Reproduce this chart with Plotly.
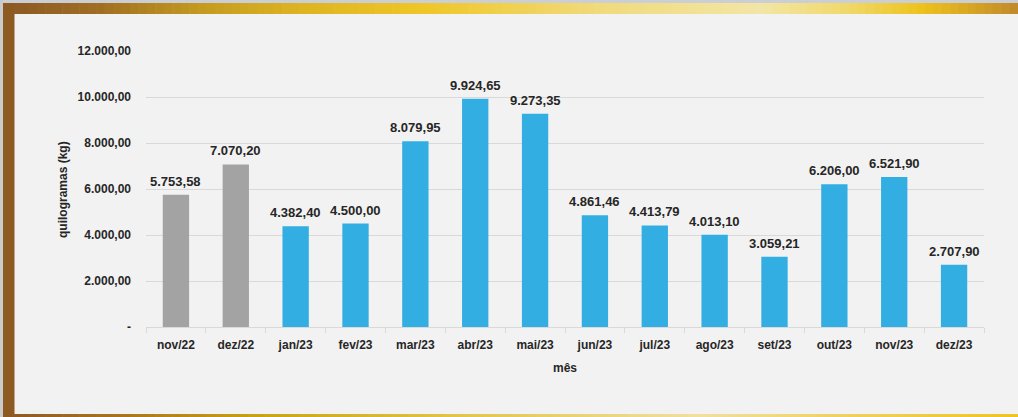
import plotly.graph_objects as go

# ---- data ----
months = ["nov/22", "dez/22", "jan/23", "fev/23", "mar/23", "abr/23", "mai/23",
          "jun/23", "jul/23", "ago/23", "set/23", "out/23", "nov/23", "dez/23"]
kg = [5753.58, 7070.20, 4382.40, 4500.00, 8079.95, 9924.65, 9273.35,
      4861.46, 4413.79, 4013.10, 3059.21, 6206.00, 6521.90, 2707.90]
bar_colors = ["#a2a3a2", "#a2a3a2"] + ["#32aee3"] * 12
y_tickvals = [0, 2000, 4000, 6000, 8000, 10000, 12000]
y_ticktext = ["-", "2.000,00", "4.000,00", "6.000,00", "8.000,00", "10.000,00", "12.000,00"]

W, H = 1018, 417
L, R, T, B = 146, 984, 51, 327  # plot area in pixels

def px_x(p):
    return (p - L) / (R - L)

def px_y(p):
    return (B - p) / (B - T)

def hex2rgb(h):
    h = h.lstrip("#")
    return tuple(int(h[i:i + 2], 16) for i in (0, 2, 4))

def interp(stops, x):
    for (x0, c0), (x1, c1) in zip(stops, stops[1:]):
        if x0 <= x <= x1:
            t = (x - x0) / (x1 - x0) if x1 > x0 else 0
            a, b = hex2rgb(c0), hex2rgb(c1)
            return "rgb(%d,%d,%d)" % tuple(round(a[i] + (b[i] - a[i]) * t) for i in range(3))
    return stops[-1][1]

top_stops = [(0, "#8a5824"), (100, "#a06e22"), (200, "#c49a20"), (300, "#dcb422"),
             (420, "#efc626"), (600, "#f1da7c"), (760, "#f2e6a6"), (850, "#f0d868"),
             (920, "#eec31e"), (1018, "#c08a2a")]
bot_stops = [(0, "#8a5824"), (120, "#a87420"), (260, "#c8a414"), (450, "#e0c448"),
             (700, "#f0e0a0"), (850, "#eed060"), (1018, "#eec422")]

shapes = []
# outer background strips
shapes.append(dict(type="rect", xref="paper", yref="paper", x0=px_x(0), x1=px_x(W),
                   y0=px_y(3), y1=px_y(0), fillcolor="#cbcfd3", line=dict(width=0), layer="above"))
shapes.append(dict(type="rect", xref="paper", yref="paper", x0=px_x(0), x1=px_x(3),
                   y0=px_y(H), y1=px_y(0), fillcolor="#c9cbcd", line=dict(width=0), layer="above"))
N = 120
for i in range(N):
    x0 = 3 + (W - 3) * i / N
    x1 = 3 + (W - 3) * (i + 1) / N + 0.6
    c = interp(top_stops, (x0 + x1) / 2)
    shapes.append(dict(type="rect", xref="paper", yref="paper", x0=px_x(x0), x1=px_x(x1),
                       y0=px_y(14), y1=px_y(3), fillcolor=c, line=dict(width=0), layer="above"))
    c2 = interp(bot_stops, (x0 + x1) / 2)
    shapes.append(dict(type="rect", xref="paper", yref="paper", x0=px_x(x0), x1=px_x(x1),
                       y0=px_y(H), y1=px_y(414), fillcolor=c2, line=dict(width=0), layer="above"))
shapes.append(dict(type="rect", xref="paper", yref="paper", x0=px_x(3), x1=px_x(14.5),
                   y0=px_y(414), y1=px_y(3), fillcolor="#8d5a22", line=dict(width=0), layer="above"))

fig = go.Figure(go.Bar(
    x=months, y=kg,
    marker=dict(color=bar_colors, line=dict(width=0)),
    hoverinfo="skip",
))

# value labels above the bars, positioned by the axes' own scales
for m, v in zip(months, kg):
    fig.add_annotation(x=m, y=v, xref="x", yref="y", yanchor="bottom", yshift=4,
                       text=f"{v:,.2f}".replace(",", "X").replace(".", ",").replace("X", "."),
                       showarrow=False,
                       font=dict(family="Liberation Sans, Arial", size=13, color="#262626", weight="bold"))

fig.update_layout(
    width=W, height=H,
    separators=",.",
    paper_bgcolor="#f2f2f2",
    plot_bgcolor="#f2f2f2",
    margin=dict(l=L, r=W - R, t=T, b=H - B, pad=0),
    bargap=0.56,
    showlegend=False,
    font=dict(family="Liberation Sans, Arial", size=12, color="#262626"),
    shapes=shapes,
)
fig.update_xaxes(
    type="category",
    showgrid=False,
    showline=True, linecolor="#d9d9d9", linewidth=1,
    ticks="outside", tickson="boundaries", ticklen=5, tickcolor="#d9d9d9",
    tickfont=dict(size=12, color="#262626", weight="bold"),
    ticklabelstandoff=7,
)
fig.update_yaxes(
    range=[0, 12000],
    tickvals=y_tickvals, ticktext=y_ticktext,
    showgrid=True, gridcolor="#d9d9d9", gridwidth=1,
    zeroline=False, showline=False,
    tickfont=dict(size=12, color="#262626", weight="bold"),
    ticklabelstandoff=14,
)
fig.add_annotation(text="quilogramas (kg)", xref="paper", yref="paper",
                   x=px_x(63), y=px_y(190), xanchor="center", yanchor="middle",
                   textangle=-90, showarrow=False,
                   font=dict(size=12, color="#262626", weight="bold"))
fig.add_annotation(text="mês", xref="paper", yref="paper",
                   x=px_x(565), y=px_y(368), xanchor="center", yanchor="middle",
                   showarrow=False,
                   font=dict(size=12, color="#262626", weight="bold"))

fig.write_html("out.html", config={"displayModeBar": False},
               post_script="document.body.style.margin='0';document.body.style.overflow='hidden';")
